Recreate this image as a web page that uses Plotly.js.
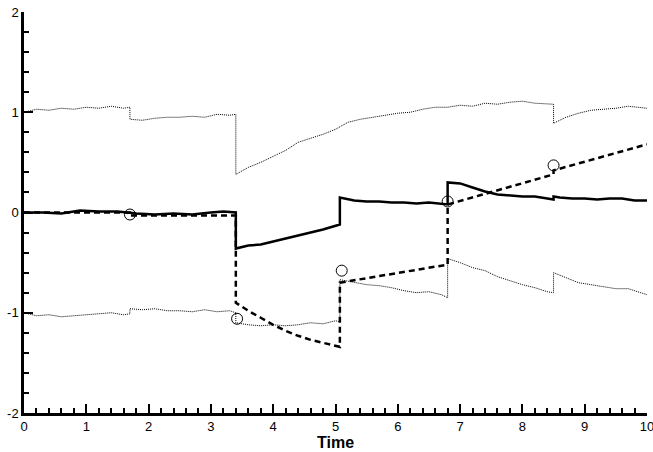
<!DOCTYPE html>
<html>
<head>
<script src="https://cdn.plot.ly/plotly-3.0.1.min.js"></script>
<style>body{margin:0}</style>
</head>
<body>
<div id="plot" style="width:653px;height:452px"></div>
<script>
// upper bound (dotted)
var upperX = [0, 0.2, 0.4, 0.6, 0.8, 1.0, 1.2, 1.4, 1.6, 1.7, 1.7, 1.9, 2.1, 2.3, 2.5, 2.7, 2.9, 3.1, 3.3, 3.4, 3.4,
  3.6, 3.8, 4.0, 4.2, 4.4, 4.6, 4.8, 5.0, 5.2, 5.4, 5.6, 5.8, 6.0, 6.2, 6.4, 6.6, 6.8, 7.0, 7.2, 7.4, 7.6, 7.8, 8.0, 8.2, 8.4, 8.5, 8.5,
  8.7, 8.9, 9.1, 9.3, 9.5, 9.7, 9.9, 10];
var upperY = [1.0, 1.03, 1.02, 1.04, 1.03, 1.05, 1.04, 1.06, 1.04, 1.05, 0.93, 0.92, 0.94, 0.95, 0.95, 0.96, 0.95, 0.98, 0.97, 0.98, 0.38,
  0.45, 0.5, 0.56, 0.62, 0.7, 0.74, 0.78, 0.83, 0.9, 0.93, 0.95, 0.97, 0.99, 1.0, 1.03, 1.05, 1.05, 1.07, 1.06, 1.09, 1.08, 1.1, 1.11, 1.09, 1.08, 1.08, 0.89,
  0.95, 0.99, 1.02, 1.03, 1.04, 1.06, 1.05, 1.04];
// lower bound (dotted)
var lowerX = [0, 0.2, 0.4, 0.6, 0.8, 1.0, 1.2, 1.4, 1.6, 1.7, 1.7, 1.9, 2.1, 2.3, 2.5, 2.7, 2.9, 3.1, 3.3, 3.4, 3.4,
  3.6, 3.8, 4.0, 4.2, 4.4, 4.6, 4.8, 5.0, 5.07, 5.07, 5.3, 5.5, 5.7, 5.9, 6.1, 6.3, 6.5, 6.7, 6.8, 6.8, 7.0, 7.2, 7.4, 7.6, 7.8, 8.0, 8.2, 8.4, 8.5, 8.5,
  8.7, 8.9, 9.1, 9.3, 9.5, 9.7, 9.9, 10];
var lowerY = [-1.0, -1.03, -1.02, -1.04, -1.03, -1.02, -1.01, -1.0, -1.02, -1.01, -0.96, -0.97, -0.96, -0.98, -0.98, -0.99, -0.97, -0.99, -0.98, -1.0, -1.1,
  -1.12, -1.13, -1.12, -1.13, -1.12, -1.1, -1.11, -1.08, -1.09, -0.67, -0.7, -0.72, -0.73, -0.75, -0.78, -0.8, -0.79, -0.82, -0.85, -0.46, -0.5, -0.55, -0.58, -0.64, -0.68, -0.72, -0.75, -0.79, -0.8, -0.6,
  -0.65, -0.7, -0.72, -0.74, -0.76, -0.76, -0.8, -0.82];
// estimate (solid)
var solidX = [0, 0.3, 0.6, 0.9, 1.2, 1.5, 1.8, 2.1, 2.4, 2.7, 3.0, 3.2, 3.4, 3.4, 3.6, 3.8, 4.0, 4.2, 4.4, 4.6, 4.8, 5.07, 5.07,
  5.3, 5.5, 5.7, 5.9, 6.1, 6.3, 6.5, 6.8, 6.8, 7.0, 7.2, 7.4, 7.6, 7.8, 8.0, 8.2, 8.5, 8.5, 8.6, 8.8, 9.0, 9.2, 9.4, 9.6, 9.8, 10];
var solidY = [0.0, 0.0, -0.01, 0.02, 0.01, 0.01, -0.01, -0.02, -0.01, -0.02, 0.0, 0.01, 0.0, -0.36, -0.33, -0.32, -0.29, -0.26, -0.23, -0.2, -0.17, -0.12, 0.15,
  0.12, 0.11, 0.11, 0.1, 0.1, 0.09, 0.1, 0.08, 0.3, 0.29, 0.25, 0.21, 0.18, 0.17, 0.16, 0.16, 0.13, 0.16, 0.15, 0.14, 0.14, 0.13, 0.14, 0.14, 0.12, 0.12];
// prediction (dashed)
var dashX = [0, 1.7, 1.7, 3.4, 3.4, 3.6, 3.8, 4.0, 4.2, 4.4, 4.6, 4.8, 5.07, 5.07, 6.8, 6.8, 8.5, 8.5, 10];
var dashY = [0, 0, -0.03, -0.03, -0.9, -0.98, -1.05, -1.12, -1.18, -1.23, -1.27, -1.3, -1.34, -0.7, -0.52, 0.08, 0.38, 0.42, 0.68];
// measurements
var measX = [1.7, 3.42, 5.1, 6.8, 8.5];
var measY = [-0.02, -1.06, -0.58, 0.11, 0.47];
var xTicks = [0, 1, 2, 3, 4, 5, 6, 7, 8, 9, 10];
var yTicks = [-2, -1, 0, 1, 2];
var yTickText = ['-2', '-1', '0', '1', '2'];

var traces = [
  {x: upperX, y: upperY, mode: 'lines', line: {color: 'black', width: 1, dash: '1px,1px'}},
  {x: lowerX, y: lowerY, mode: 'lines', line: {color: 'black', width: 1, dash: '1px,1px'}},
  {x: dashX, y: dashY, mode: 'lines', line: {color: 'black', width: 2.5, dash: '6px,4px'}},
  {x: solidX, y: solidY, mode: 'lines', line: {color: 'black', width: 2.5}},
  {x: measX, y: measY, mode: 'markers', marker: {symbol: 'circle-open', size: 11, color: 'black', line: {width: 1}}}
];

var layout = {
  width: 653, height: 452,
  margin: {l: 24, r: 6, t: 12, b: 39},
  showlegend: false,
  plot_bgcolor: 'white',
  font: {family: 'Liberation Sans, Arial, sans-serif', size: 13, color: 'black'},
  xaxis: {
    range: [0, 10], tickmode: 'array', tickvals: xTicks, ticks: 'inside', ticklen: 9, tickwidth: 2, tickcolor: 'black',
    ticklabeloverflow: 'allow',
    showgrid: false, zeroline: false, showline: true, linewidth: 2.5, linecolor: 'black',
    minor: {dtick: 0.2, ticks: 'inside', ticklen: 5, tickcolor: 'black'},
    title: {text: '<b>Time</b>', font: {size: 16}, standoff: 2}
  },
  yaxis: {
    range: [-2, 2], tickmode: 'array', tickvals: yTicks, ticktext: yTickText, ticks: 'inside', ticklen: 9, tickwidth: 2, tickcolor: 'black',
    ticklabeloverflow: 'allow',
    showgrid: false, zeroline: false, showline: true, linewidth: 2.5, linecolor: 'black',
    minor: {dtick: 0.2, ticks: 'inside', ticklen: 5, tickcolor: 'black'}
  }
};

Plotly.newPlot('plot', traces, layout, {displayModeBar: false});
</script>
</body>
</html>
